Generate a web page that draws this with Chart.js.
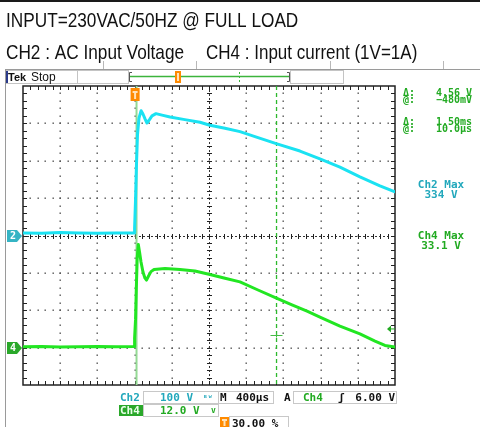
<!DOCTYPE html>
<html><head><meta charset="utf-8">
<script src="https://cdn.jsdelivr.net/npm/chart.js@4.4.1/dist/chart.umd.min.js"></script>
<style>html,body{margin:0;padding:0;background:#fff;overflow:hidden}canvas{display:block}</style>
</head><body><canvas id="c" width="480" height="427"></canvas>
<script>
// ---- text ----
const titleLine1 = "INPUT=230VAC/50HZ @ FULL LOAD";
const titleLine2a = "CH2 : AC Input Voltage";
const titleLine2b = "CH4 : Input current (1V=1A)";

// ---- scope settings ----
const timeRange = [-1.2, 2.8];     // ms, 400 µs/div, trigger at 30 %
const ch2Range = [-400, 400];      // V, 100 V/div, ground at centre
const ch4Range = [-12, 84];        // V, 12.0 V/div, ground one div above bottom
const trigLevel = 6.0;             // V on Ch4
const cursorTimes = [0.01, 1.51];  // ms
const cursorLevels = [-0.48, 4.08];// V on Ch4

// ---- CH2 : AC input voltage (V) ----
const timeMs2 = [-1.2,-1.0,-0.8,-0.6,-0.4,-0.2,-0.006,0.0,0.01,0.02,0.031,0.047,0.07,0.09,0.112,0.133,0.16,0.187,0.23,0.295,0.38,0.54,0.703,0.81,0.972,1.133,1.327,1.531,1.778,1.993,2.208,2.423,2.638,2.8];
const ch2Volts = [7,6,8,7,6,7,7,20,95,188,269,314,334,325,312,301,310,320,326,322,317,310,303,295,287,278,262,245,226,205,183,157,133,117];

// ---- CH4 : input current (V, 1V = 1A) ----
const timeMs4 = [-1.2,-1.0,-0.8,-0.6,-0.4,-0.2,-0.006,-0.002,0.002,0.01,0.018,0.028,0.04,0.053,0.069,0.09,0.112,0.128,0.15,0.176,0.209,0.327,0.488,0.649,0.81,0.972,1.133,1.327,1.531,1.692,1.854,1.993,2.208,2.423,2.585,2.692,2.8];
const ch4Volts = [0.3,0.4,0.2,0.3,0.4,0.3,0.35,3.2,3.1,8.9,18.5,28.8,33.1,30.7,27.5,24.3,22.3,21.7,23.0,24.4,25.1,25.4,25.1,24.6,23.5,22.3,21.1,18.5,15.8,13.7,11.7,9.8,6.9,4.4,2.1,0.7,0.2];

// ---- readouts ----
const readouts = [["\u0394:", "4.56 V"], ["@:", "\u2212480mV"], ["\u0394:", "1.50ms"], ["@:", "10.0\u00b5s"]];
const maxLabels = [["Ch2 Max", "334 V"], ["Ch4 Max", "33.1 V"]];
const ch2Scale = "100 V", ch4Scale = "12.0 V", timeBase = "400\u00b5s", trigSrc = "Ch4", trigVal = "6.00 V", trigPos = "30.00 %";

const TEAL = '#22a8bc', GREEN = '#22aa22', CYAN_TR = '#1ae2f2', GREEN_TR = '#22e622', ORANGE = '#ff8a00';
const MONO = '"DejaVu Sans Mono", monospace';

function narrowText(ctx, s, x, y, size, sx) {
  ctx.save(); ctx.translate(x, y); ctx.scale(sx, 1);
  ctx.font = size + 'px "Liberation Sans", Arial, sans-serif';
  ctx.fillStyle = '#111'; ctx.textBaseline = 'alphabetic'; ctx.textAlign = 'left';
  ctx.fillText(s, 0, 0); ctx.restore();
}

const backPlugin = {
  id: 'back',
  beforeDraw(chart) {
    const ctx = chart.ctx;
    ctx.save();
    ctx.fillStyle = '#fff'; ctx.fillRect(0, 0, 480, 427);
    ctx.fillStyle = '#1a1a1a'; ctx.fillRect(0, 0, 480, 2);
    narrowText(ctx, titleLine1, 6, 27, 21, 0.82);
    narrowText(ctx, titleLine2a, 6, 58.5, 21, 0.82);
    narrowText(ctx, titleLine2b, 206, 58.5, 21, 0.81);
    // table ticks
    ctx.strokeStyle = '#b8b8b8'; ctx.lineWidth = 1;
    [103, 196, 330, 443].forEach(x => { ctx.beginPath(); ctx.moveTo(x + 0.5, 61); ctx.lineTo(x + 0.5, 69); ctx.stroke(); });
    // screenshot frame
    ctx.strokeStyle = '#9a9a9a';
    ctx.beginPath(); ctx.moveTo(5, 69.5); ctx.lineTo(480, 69.5); ctx.stroke();
    ctx.beginPath(); ctx.moveTo(5.5, 69); ctx.lineTo(5.5, 427); ctx.stroke();
    // status bar
    ctx.strokeStyle = '#c4c4c4';
    ctx.strokeRect(6.5, 70.5, 71, 13); ctx.strokeRect(77.5, 70.5, 51, 13); ctx.strokeRect(290.5, 70.5, 53, 13);
    ctx.fillStyle = '#2a3a8a'; ctx.fillRect(6, 71, 2, 12);
    ctx.fillStyle = '#111'; ctx.font = 'bold 11px "Liberation Sans", sans-serif'; ctx.textBaseline = 'alphabetic';
    ctx.fillText('Tek', 8, 81);
    ctx.font = '12px "Liberation Sans", sans-serif'; ctx.fillText('Stop', 31, 81);
    // record view bar
    ctx.strokeStyle = '#555'; ctx.lineWidth = 1;
    ctx.beginPath(); ctx.moveTo(132, 72.5); ctx.lineTo(129.5, 72.5); ctx.lineTo(129.5, 81.5); ctx.lineTo(132, 81.5); ctx.stroke();
    ctx.beginPath(); ctx.moveTo(287, 72.5); ctx.lineTo(289.5, 72.5); ctx.lineTo(289.5, 81.5); ctx.lineTo(287, 81.5); ctx.stroke();
    ctx.strokeStyle = '#3cb43c'; ctx.lineWidth = 1.5;
    ctx.beginPath(); ctx.moveTo(130, 76.5); ctx.lineTo(289, 76.5); ctx.stroke();
    ctx.setLineDash([2, 2]); ctx.lineWidth = 1;
    ctx.beginPath(); ctx.moveTo(239.5, 72); ctx.lineTo(239.5, 83); ctx.stroke();
    ctx.setLineDash([]);
    ctx.fillStyle = ORANGE; ctx.fillRect(175, 71, 6, 12);
    ctx.fillStyle = '#ffe2b8'; ctx.fillRect(177, 73, 2, 8);
    ctx.restore();
  }
};

const graticule = {
  id: 'graticule',
  beforeDatasetsDraw(chart) {
    const ctx = chart.ctx, xs = chart.scales.x, ys = chart.scales.y2, y4 = chart.scales.y4;
    const L = xs.getPixelForValue(timeRange[0]), R = xs.getPixelForValue(timeRange[1]);
    const T = ys.getPixelForValue(ch2Range[1]), B = ys.getPixelForValue(ch2Range[0]);
    const dx = (R - L) / 10, dy = (B - T) / 8;
    ctx.save();
    // dotted grid lines
    ctx.fillStyle = '#505050';
    for (let i = 1; i < 10; i++) {
      if (i === 5) continue;
      const x = xs.getPixelForValue(timeRange[0] + i * 0.4);
      for (let k = 1; k < 40; k++) { const y = T + k * dy / 5; ctx.fillRect(Math.round(x) - 0.5, Math.round(y) - 0.5, 1.4, 1.4); }
    }
    for (let j = 1; j < 8; j++) {
      if (j === 4) continue;
      const y = ys.getPixelForValue(ch2Range[1] - j * 100);
      for (let k = 1; k < 50; k++) { const x = L + k * dx / 5; ctx.fillRect(Math.round(x) - 0.5, Math.round(y) - 0.5, 1.4, 1.4); }
    }
    // centre lines
    const cx = xs.getPixelForValue(0.8), cy = ys.getPixelForValue(0);
    ctx.strokeStyle = '#333'; ctx.lineWidth = 1; ctx.setLineDash([2, 2]);
    ctx.beginPath(); ctx.moveTo(L, Math.round(cy) + 0.5); ctx.lineTo(R, Math.round(cy) + 0.5); ctx.stroke();
    ctx.beginPath(); ctx.moveTo(Math.round(cx) + 0.5, T); ctx.lineTo(Math.round(cx) + 0.5, B); ctx.stroke();
    ctx.setLineDash([]);
    ctx.strokeStyle = '#222';
    ctx.beginPath();
    for (let k = 1; k < 50; k++) { const x = Math.round(L + k * dx / 5) + 0.5; ctx.moveTo(x, Math.round(cy) - 2); ctx.lineTo(x, Math.round(cy) + 3); }
    for (let k = 1; k < 40; k++) { const y = Math.round(T + k * dy / 5) + 0.5; ctx.moveTo(Math.round(cx) - 2, y); ctx.lineTo(Math.round(cx) + 3, y); }
    // edge ticks
    for (let k = 1; k < 50; k++) { const x = Math.round(L + k * dx / 5) + 0.5; ctx.moveTo(x, T); ctx.lineTo(x, T + 4); ctx.moveTo(x, B); ctx.lineTo(x, B - 4); }
    for (let k = 1; k < 40; k++) { const y = Math.round(T + k * dy / 5) + 0.5; ctx.moveTo(L, y); ctx.lineTo(L + 4, y); ctx.moveTo(R, y); ctx.lineTo(R - 4, y); }
    ctx.stroke();
    // frame
    ctx.strokeStyle = '#222'; ctx.lineWidth = 1.5;
    ctx.strokeRect(L, T, R - L, B - T);
    // cursors
    const c1 = xs.getPixelForValue(cursorTimes[0]), c2 = xs.getPixelForValue(cursorTimes[1]);
    ctx.strokeStyle = '#94da94'; ctx.lineWidth = 2;
    ctx.beginPath(); ctx.moveTo(c1 + 1, T); ctx.lineTo(c1 + 1, B); ctx.stroke();
    ctx.strokeStyle = '#2cb82c'; ctx.lineWidth = 1.3; ctx.setLineDash([4, 3]);
    ctx.beginPath(); ctx.moveTo(c2 + 1.5, T); ctx.lineTo(c2 + 1.5, B); ctx.stroke();
    ctx.setLineDash([]);
    ctx.restore();
  },
  afterDatasetsDraw(chart) {
    const ctx = chart.ctx, xs = chart.scales.x, ys = chart.scales.y2, y4 = chart.scales.y4;
    const L = xs.getPixelForValue(timeRange[0]), R = xs.getPixelForValue(timeRange[1]);
    const T = ys.getPixelForValue(ch2Range[1]);
    ctx.save();
    // cursor intersection marker
    const c2 = xs.getPixelForValue(cursorTimes[1]) + 1.5, cyv = Math.round(y4.getPixelForValue(cursorLevels[1])) + 0.5;
    ctx.strokeStyle = '#44bb44'; ctx.lineWidth = 1;
    ctx.beginPath(); ctx.moveTo(c2 - 6, cyv); ctx.lineTo(c2 + 6, cyv); ctx.moveTo(c2, cyv - 2); ctx.lineTo(c2, cyv + 2); ctx.stroke();
    // trigger level arrow
    const ty = y4.getPixelForValue(trigLevel);
    ctx.fillStyle = GREEN; ctx.strokeStyle = GREEN;
    ctx.beginPath(); ctx.moveTo(R - 8, ty); ctx.lineTo(R - 4, ty - 3.5); ctx.lineTo(R - 4, ty + 3.5); ctx.closePath(); ctx.fill();
    ctx.beginPath(); ctx.moveTo(R - 4, ty); ctx.lineTo(R, ty); ctx.stroke();
    // trigger position marker
    const tx = xs.getPixelForValue(0);
    ctx.fillStyle = ORANGE; ctx.fillRect(tx - 4, T + 2, 9, 13);
    ctx.fillStyle = '#ffe2b8'; ctx.fillRect(tx - 2, T + 5, 5, 2); ctx.fillRect(tx - 0.5, T + 5, 2, 8);
    // channel ground markers
    function gnd(y, col, label) {
      y = Math.round(y);
      ctx.fillStyle = col;
      ctx.beginPath(); ctx.moveTo(7, y - 6); ctx.lineTo(17, y - 6); ctx.lineTo(22, y); ctx.lineTo(17, y + 6); ctx.lineTo(7, y + 6); ctx.closePath(); ctx.fill();
      ctx.fillStyle = '#fff'; ctx.font = 'bold 10px ' + MONO; ctx.textAlign = 'center'; ctx.textBaseline = 'middle';
      ctx.fillText(label, 13, y + 0.5);
    }
    gnd(ys.getPixelForValue(0), '#35b4c4', '2');
    gnd(y4.getPixelForValue(0), '#2aa82a', '4');
    // readouts
    ctx.textBaseline = 'alphabetic';
    ctx.font = 'bold 10px ' + MONO; ctx.fillStyle = GREEN;
    const rb = [96, 103, 125, 132];
    readouts.forEach((r, i) => {
      ctx.textAlign = 'left'; ctx.fillText(r[0], 403, rb[i]);
      ctx.textAlign = 'right'; ctx.fillText(r[1], 472, rb[i]);
    });
    ctx.textAlign = 'center'; ctx.font = 'bold 11px ' + MONO;
    ctx.fillStyle = TEAL; ctx.fillText(maxLabels[0][0], 441, 188); ctx.fillText(maxLabels[0][1], 441, 198);
    ctx.fillStyle = GREEN; ctx.fillText(maxLabels[1][0], 441, 238.5); ctx.fillText(maxLabels[1][1], 441, 249);
    // bottom status
    ctx.strokeStyle = '#c8c8c8'; ctx.lineWidth = 1;
    ctx.strokeRect(143.5, 391.5, 75, 12); ctx.strokeRect(218.5, 391.5, 55, 12); ctx.strokeRect(293.5, 391.5, 103, 12);
    ctx.strokeRect(143.5, 404.5, 75, 12); ctx.strokeRect(229.5, 416.5, 59, 12);
    ctx.textAlign = 'left'; ctx.font = 'bold 11px ' + MONO;
    ctx.fillStyle = TEAL; ctx.fillText('Ch2', 120, 401); ctx.fillText(ch2Scale, 160, 401);
    ctx.font = 'bold 8px ' + MONO; ctx.fillText('\u1d2e\u1d42', 203, 401);
    ctx.font = 'bold 11px ' + MONO;
    ctx.fillStyle = '#111'; ctx.fillText('M', 220, 401); ctx.fillText(timeBase, 236, 401);
    ctx.fillText('A', 284, 401);
    ctx.fillStyle = GREEN; ctx.fillText(trigSrc, 303, 401);
    ctx.fillStyle = '#111'; ctx.fillText('\u0283', 338, 401);
    ctx.textAlign = 'right'; ctx.fillText(trigVal, 395, 401);
    ctx.textAlign = 'left';
    ctx.fillStyle = '#2aa82a'; ctx.fillRect(119, 405, 24, 11);
    ctx.fillStyle = '#e8ffe8'; ctx.fillText('Ch4', 120, 414);
    ctx.fillStyle = GREEN; ctx.fillText(ch4Scale, 160, 414);
    ctx.font = 'bold 8px ' + MONO; ctx.fillText('v', 211, 413);
    ctx.fillStyle = ORANGE; ctx.fillRect(220, 417, 9, 10);
    ctx.fillStyle = '#ffe2b8'; ctx.fillRect(222, 419, 5, 2); ctx.fillRect(223.5, 419, 2, 7);
    ctx.font = 'bold 11px ' + MONO; ctx.fillStyle = '#111'; ctx.fillText(trigPos, 232, 427);
    ctx.restore();
  }
};

const toPts = (t, v) => t.map((x, i) => ({ x: x, y: v[i] }));

new Chart(document.getElementById('c'), {
  type: 'line',
  data: {
    datasets: [
      { label: 'CH2', data: toPts(timeMs2, ch2Volts), yAxisID: 'y2', borderColor: CYAN_TR, borderWidth: 3, pointRadius: 0, tension: 0, borderJoinStyle: 'round', borderCapStyle: 'round' },
      { label: 'CH4', data: toPts(timeMs4, ch4Volts), yAxisID: 'y4', borderColor: GREEN_TR, borderWidth: 3, pointRadius: 0, tension: 0, borderJoinStyle: 'round', borderCapStyle: 'round' }
    ]
  },
  options: {
    responsive: false, animation: false, devicePixelRatio: 1,
    layout: { padding: { left: 23, top: 86, right: 85, bottom: 42 } },
    plugins: { legend: { display: false }, tooltip: { enabled: false } },
    scales: {
      x: { type: 'linear', min: timeRange[0], max: timeRange[1], display: false },
      y2: { type: 'linear', min: ch2Range[0], max: ch2Range[1], display: false },
      y4: { type: 'linear', min: ch4Range[0], max: ch4Range[1], display: false }
    }
  },
  plugins: [backPlugin, graticule]
});
</script>
</body></html>
